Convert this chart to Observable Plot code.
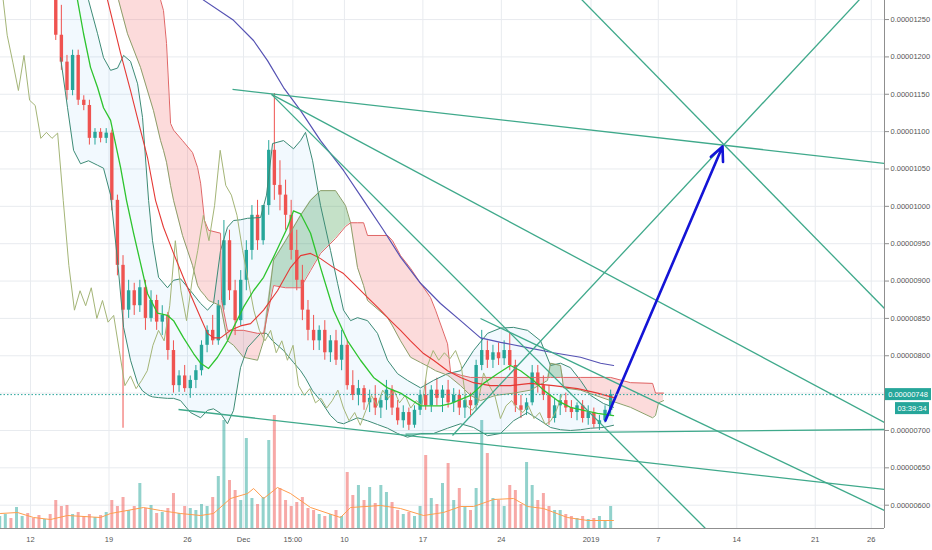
<!DOCTYPE html>
<html><head><meta charset="utf-8">
<script src="https://cdn.jsdelivr.net/npm/d3@7"></script>
<script src="https://cdn.jsdelivr.net/npm/@observablehq/plot@0.6"></script>
<style>
html,body{margin:0;padding:0;background:#fff;}
#chart{width:932px;height:550px;overflow:hidden}
</style></head><body><div id="chart"></div>
<script>
// Time: days since 12 Nov 2018 00:00. Price: satoshi (1e-8 BTC).
const tickDays   = [0, 7, 14, 19, 23.4, 28, 35, 42, 50, 56, 63, 70, 75];
const tickLabels = ["12","19","26","Dec","15:00","10","17","24","2019","7","14","21","26"];
const gridPrices = [600,650,700,750,800,850,900,950,1000,1050,1100,1150,1200,1250];
const labelPrices = [600,650,700,800,850,900,950,1000,1050,1100,1150,1200,1250];
const lastPrice = 748;
const countdown = "03:39:34";

// 12h candles
const candleStart = -2.75, candleStep = 0.5;
const firstOpen = 1330;
const closes = [1350,1372,1338,1365,1390,1352,1330,1318,1340,1295,
1229,1193,1155,1202,1142,1135,1091,1099,1091,1098,
1008,921,861,887,867,891,850,874,845,854,
807,760,773,756,767,780,814,834,820,867,
954,887,847,901,941,988,954,1001,1075,1028,
1015,988,941,901,861,834,820,834,804,820,
794,814,760,747,756,737,743,730,740,754,
730,713,724,707,727,747,733,754,743,754,
737,747,730,740,733,787,807,794,804,796,
807,787,733,727,737,777,760,747,716,733,
740,730,724,733,716,724,708,713,727,748];
const highs = [1360,1385,1380,1400,1410,1395,1358,1345,1352,1348,
1300,1269,1202,1209,1209,1148,1142,1104,1104,1104,
1102,1015,934,901,897,901,901,887,881,867,
858,820,780,787,773,787,820,840,854,874,
981,968,901,914,954,1001,1008,1001,1088,1151,
1061,1035,1008,968,921,874,854,840,847,827,
834,834,820,780,767,760,754,760,747,767,
760,740,733,730,733,754,767,760,770,760,
767,756,754,747,750,794,834,820,814,817,
820,830,794,747,743,787,787,773,760,743,
747,750,740,737,740,733,730,720,733,754];
const lows = [1325,1330,1320,1335,1348,1335,1312,1300,1310,1285,
1222,1182,1142,1148,1135,1128,1082,1082,1085,1084,
994,907,703,850,854,858,834,845,834,827,
794,750,751,751,743,756,773,804,814,814,
861,874,827,840,887,928,941,948,988,1008,
994,968,928,887,847,820,807,807,794,791,
787,780,754,740,733,727,724,720,716,727,
720,707,703,700,703,720,727,724,733,724,
730,724,720,716,720,727,780,783,783,787,
787,780,724,716,720,733,750,740,707,710,
720,724,716,713,710,707,703,700,710,720];
const volumes = [12,14,10,21,12,15,10,13,9,14,
28,22,23,14,16,12,14,11,13,16,
28,22,31,18,22,45,20,23,15,16,
20,35,15,22,20,18,24,22,31,52,
108,48,38,28,90,30,24,31,88,113,
40,28,22,26,31,20,18,14,12,14,
18,12,56,33,43,28,41,25,43,36,
26,18,14,16,12,22,73,30,24,45,
65,28,40,22,18,40,108,75,30,28,
22,43,38,24,66,43,28,35,22,18,
18,14,12,10,12,9,10,12,8,22];
const volumeMA = [[-2.68,15],[-1.16,16],[0.27,11],[1.78,9],[3.3,13],[6.24,11],[7.14,15],[10.08,21],[11.6,18],[13.38,15],[15.17,13],[16.32,15],[17.84,30],[19.36,35],[19.9,40],[20.79,30],[22.03,41],[23.19,35],[24.98,21],[27.65,11],[28.55,21],[31.22,23],[33.0,20],[35.06,13],[36.84,16],[38.36,22],[39.52,22],[41.3,29],[43.09,30],[44.34,22],[45.76,20],[47.9,11],[49.7,8],[52.0,8]];

// Ichimoku cloud: [day, leading span A, leading span B]
const cloud = [[6.69,1329,1436],[7.85,1276,1383],[8.65,1231,1356],[9.81,1186,1329],[10.97,1128,1296],[11.60,1088,1276],[11.86,1075,1262],[12.13,1059,1218],[12.49,1028,1111],[12.76,1008,1102],[13.56,961,1088],[14.45,921,1072],[14.90,894,1052],[15.17,887,1031],[15.52,881,981],[15.88,874,968],[16.95,867,964],[17.04,861,874],[17.57,820,834],[18.11,814,834],[19.00,798,834],[20.25,794,830],[20.79,820,830],[21.68,928,894],[22.75,954,891],[24.09,988,891],[24.98,1008,914],[25.87,1021,937],[27.21,1021,957],[28.10,1001,973],[28.55,978,978],[29.17,918,978],[29.71,894,978],[30.06,874,961],[31.85,851,961],[32.29,840,954],[33.01,820,934],[33.90,798,917],[34.79,791,897],[35.68,784,878],[36.13,780,861],[37.20,774,816],[37.47,771,778],[38.36,760,774],[39.25,747,771],[40.14,740,771],[41.48,747,771],[43.09,750,771],[44.60,754,771],[46.12,767,771],[46.39,790,771],[47.28,787,771],[47.55,757,771],[49.06,754,771],[51.74,740,771],[53.52,731,764],[55.49,717,763],[55.75,720,750],[56.02,737,750],[56.47,740,750]];

// Bollinger bands: [day, upper, lower]
const bollinger = [[2.68,1329,1199],[3.30,1363,1132],[3.84,1343,1075],[4.46,1313,1057],[5.17,1276,1061],[5.98,1231,1055],[6.51,1199,1051],[7.14,1182,1015],[7.76,1185,928],[8.30,1202,838],[8.92,1194,794],[9.55,1164,763],[9.99,1119,753],[10.53,1008,747],[10.88,954,745],[11.42,905,744],[12.22,891,743],[12.76,901,743],[13.38,903,740],[14.27,887,724],[15.17,870,717],[15.79,861,727],[16.32,870,729],[16.95,941,723],[17.57,972,709],[18.11,981,727],[18.73,982,784],[19.36,984,811],[20.52,985,830],[21.05,1015,830],[21.59,1084,820],[22.57,1088,807],[23.46,1077,791],[24.09,1088,780],[24.53,1099,770],[25.16,1061,753],[25.87,1001,740],[26.76,941,720],[27.39,897,711],[27.92,861,709],[28.55,847,713],[29.17,851,717],[30.06,847,713],[30.95,830,708],[31.85,794,703],[32.74,776,696],[33.63,767,691],[34.79,757,696],[35.95,767,696],[37.20,776,703],[38.36,780,709],[39.52,807,704],[40.77,830,693],[41.93,837,696],[43.09,838,713],[44.34,834,724],[45.50,820,713],[46.39,787,704],[47.28,790,701],[48.17,784,700],[49.06,767,701],[49.96,747,703],[51.12,736,704],[52.01,731,707]];

const greenMA = [[3.57,1309],[4.19,1276],[4.73,1231],[5.35,1186],[5.98,1159],[6.51,1132],[7.14,1115],[7.58,1084],[8.03,1052],[8.56,1008],[9.19,964],[9.81,924],[10.44,883],[11.33,857],[12.22,854],[12.76,847],[13.65,824],[14.54,803],[15.17,790],[15.88,783],[16.68,798],[17.57,820],[18.11,838],[19.00,865],[19.89,887],[20.79,905],[21.68,932],[22.93,972],[23.46,994],[24.09,990],[24.98,964],[25.87,918],[27.03,861],[28.28,820],[29.44,794],[30.60,771],[31.85,757],[33.01,750],[34.79,733],[36.57,733],[37.47,736],[39.25,747],[40.41,763],[41.66,776],[42.82,787],[43.71,780],[44.87,767],[45.76,754],[47.01,740],[48.17,731],[49.33,727],[50.58,723],[52.01,720]];
const redMA = [[6.24,1316],[6.87,1276],[8.03,1205],[8.92,1155],[9.81,1102],[10.44,1065],[11.15,1008],[11.86,972],[12.76,937],[14.01,891],[15.17,851],[15.79,830],[16.32,824],[16.95,824],[17.84,834],[18.73,840],[19.63,843],[20.79,861],[22.03,887],[23.19,918],[24.09,934],[24.98,937],[25.87,930],[27.03,918],[27.92,910],[28.81,897],[30.06,878],[31.22,861],[32.11,847],[33.01,834],[33.90,820],[35.06,803],[35.95,794],[37.20,780],[38.36,771],[39.52,764],[41.03,760],[42.82,760],[44.60,763],[46.65,760],[48.80,756],[50.58,750],[52.01,744]];
const purpleMA = [[14.27,1302],[15.43,1276],[18.11,1249],[19.89,1222],[21.14,1195],[22.57,1159],[24.09,1128],[25.87,1088],[27.92,1048],[29.71,1008],[31.49,968],[33.01,932],[34.79,897],[36.57,870],[38.36,847],[40.14,824],[41.93,818],[44.34,811],[46.65,804],[49.06,798],[50.85,790],[52.01,787]];

// Lagging span displacement: 26 four-hour periods
const laggingShiftDays = 26 * 4 / 24;

// Drawn trend lines (day, price)
const trendLines = [
  {x1: 18.02, y1: 1156.5, x2: 76.18, y2: 1057.4},
  {x1: 21.50, y1: 1149.8, x2: 76.18, y2: 710.7},
  {x1: 21.50, y1: 1149.8, x2: 63.33, y2: 522},
  {x1: 33.45, y1: 695.0, x2: 76.18, y2: 701.3},
  {x1: 13.20, y1: 728.1, x2: 76.18, y2: 621.0},
  {x1: 40.14, y1: 849.9, x2: 76.18, y2: 592.9},
  {x1: 37.64, y1: 693.3, x2: 75.83, y2: 1307},
  {x1: 47.28, y1: 1305.6, x2: 76.18, y2: 863.3}
];
const projection = [{x1: 51.29, y1: 713.3, x2: 61.73, y2: 1080.2}];

const xDomain = [-2.68, 76.18];
const yDomain = [568.8, 1275.5];

const UP = "#26a69a", DOWN = "#ef5350";
const candles = closes.map((c, i) => ({
  t: candleStart + i * candleStep,
  open: i ? closes[i - 1] : firstOpen,
  close: c, high: highs[i], low: lows[i], vol: volumes[i]
}));
// volume overlay occupies the lower quarter of the price pane
const volShare = 0.25, volFull = 132;
const volY = v => yDomain[0] + v * (yDomain[1] - yDomain[0]) * volShare / volFull;
const col = d => d.close >= d.open ? UP : DOWN;
const FONT = "7.5px";

const chart = Plot.plot({
  width: 932, height: 550,
  marginLeft: 0, marginTop: 0, marginRight: 48, marginBottom: 22,
  x: {domain: xDomain},
  y: {domain: yDomain},
  color: {type: "identity"},
  style: {fontFamily: "'Liberation Sans Narrow','Arial Narrow','Liberation Sans',Arial,sans-serif", fontSize: FONT, color: "#555", background: "#fff"},
  marks: [
    Plot.ruleX(tickDays, {stroke: "#e8ebef"}),
    Plot.ruleY(gridPrices, {stroke: "#e8ebef"}),
    // volume
    Plot.ruleX(candles, {x: "t", y1: () => yDomain[0], y2: d => volY(d.vol), stroke: col, strokeOpacity: 0.5, strokeWidth: 3, clip: true}),
    Plot.line(volumeMA, {x: d => d[0], y: d => volY(d[1]), stroke: "#ff9d4d", strokeWidth: 1, clip: true}),
    // Ichimoku cloud
    Plot.areaY(cloud, {x: d => d[0], y1: d => d[1], y2: d => Math.max(d[1], d[2]), fill: "#f47c7c", fillOpacity: 0.28, clip: true}),
    Plot.areaY(cloud, {x: d => d[0], y1: d => d[2], y2: d => Math.max(d[1], d[2]), fill: "#3f9a4a", fillOpacity: 0.3, clip: true}),
    // Bollinger fill
    Plot.areaY(bollinger, {x: d => d[0], y1: d => d[2], y2: d => d[1], fill: "#2196f3", fillOpacity: 0.06, clip: true}),
    // candles
    Plot.ruleX(candles, {x: "t", y1: "low", y2: "high", stroke: col, strokeWidth: 1, clip: true}),
    Plot.ruleX(candles, {x: "t", y1: "open", y2: "close", stroke: col, strokeWidth: 3.4, clip: true}),
    // Bollinger lines
    Plot.line(bollinger, {x: d => d[0], y: d => d[1], stroke: "#3d8b76", strokeWidth: 1, clip: true}),
    Plot.line(bollinger, {x: d => d[0], y: d => d[2], stroke: "#3d8b76", strokeWidth: 1, clip: true}),
    // cloud edges
    Plot.line(cloud, {x: d => d[0], y: d => d[1], stroke: "#8c9f6a", strokeWidth: 1, clip: true}),
    Plot.line(cloud, {x: d => d[0], y: d => d[2], stroke: "#e06666", strokeWidth: 1, clip: true}),
    // lagging span
    Plot.line(candles, {x: d => d.t - laggingShiftDays, y: "close", stroke: "#a4b577", strokeWidth: 1, clip: true}),
    // moving averages
    Plot.line(purpleMA, {x: d => d[0], y: d => d[1], stroke: "#5552b3", strokeWidth: 1.2, clip: true}),
    Plot.line(redMA, {x: d => d[0], y: d => d[1], stroke: "#e53935", strokeWidth: 1.1, clip: true}),
    Plot.line(greenMA, {x: d => d[0], y: d => d[1], stroke: "#2ec42e", strokeWidth: 1.3, clip: true}),
    // drawings
    Plot.link(trendLines, {x1: "x1", y1: "y1", x2: "x2", y2: "y2", stroke: "#3fa98b", strokeWidth: 1.3, clip: true}),
    Plot.arrow(projection, {x1: "x1", y1: "y1", x2: "x2", y2: "y2", stroke: "#1414d6", strokeWidth: 2.6, headLength: 9, headAngle: 50}),
    Plot.ruleY([lastPrice], {stroke: "#26a69a", strokeDasharray: "1.5,2", strokeWidth: 1}),
    // axes
    Plot.ruleX([xDomain[1]], {stroke: "#8f8f8f"}),
    Plot.ruleY([yDomain[0]], {stroke: "#8f8f8f"}),
    Plot.axisY(labelPrices, {anchor: "right", tickSize: 4, tickPadding: 2, stroke: "#8f8f8f", fill: "#555", tickFormat: d => (d / 1e8).toFixed(8)}),
    Plot.axisX(tickDays, {anchor: "bottom", tickSize: 0, tickPadding: 8, fill: "#555", tickFormat: d => tickLabels[tickDays.indexOf(d)]})
  ]
});

// last-price label and bar countdown in the right margin
const svg = d3.select(chart);
const yPx = chart.scale("y").apply(lastPrice);
const xEnd = chart.scale("x").apply(xDomain[1]);
svg.append("rect").attr("x", xEnd + 1).attr("y", yPx - 6).attr("width", 46).attr("height", 12).attr("fill", "#26a69a");
svg.append("text").attr("x", xEnd + 24).attr("y", yPx + 2.7).attr("text-anchor", "middle").attr("fill", "#fff").attr("font-size", FONT).text((lastPrice / 1e8).toFixed(8));
svg.append("rect").attr("x", xEnd + 11).attr("y", yPx + 8).attr("width", 34).attr("height", 12).attr("fill", "#26a69a");
svg.append("text").attr("x", xEnd + 28).attr("y", yPx + 16.7).attr("text-anchor", "middle").attr("fill", "#fff").attr("font-size", FONT).text(countdown);

document.getElementById("chart").appendChild(chart);
</script>
</body></html>
